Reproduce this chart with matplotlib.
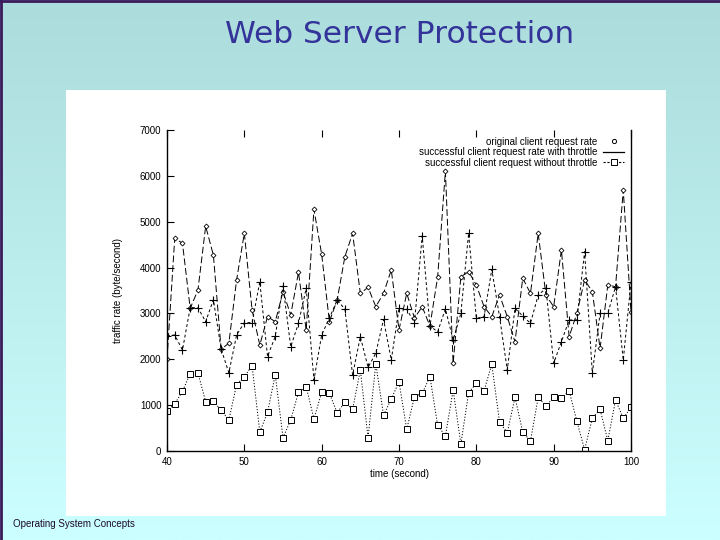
import matplotlib.pyplot as plt
import numpy as np
from matplotlib.lines import Line2D
from matplotlib.patches import Rectangle
from matplotlib.colors import LinearSegmentedColormap

# dados (tempo em segundos)
tempo = list(range(40, 101))

original = [2000, 4640, 4530, 3110, 3510, 4900, 4270, 2220, 2350, 3730,
            4750, 3075, 2310, 2930, 2820, 3475, 2966, 3897, 2640, 5270,
            4290, 2820, 3290, 4236, 4746, 3438, 3568, 3147, 3438, 3947,
            2640, 3438, 2900, 3147, 2725, 3800, 6100, 1912, 3800, 3910,
            3620, 3147, 2930, 3400, 2930, 2380, 3766, 3438, 4746, 3400,
            3147, 4383, 2493, 3000, 3730, 3475, 2240, 3620, 3583, 5690, 3040]

com_throttle = [2508, 2530, 2202, 3125, 3125, 2820, 3300, 2220, 1707, 2530,
                2800, 2800, 3690, 2060, 2500, 3600, 2275, 2785, 3548, 1550,
                2530, 2900, 3290, 3095, 1657, 2493, 1825, 2130, 2870, 1984,
                3110, 3090, 2800, 4690, 2725, 2600, 3100, 2420, 3000, 4746,
                2893, 2930, 3960, 2930, 1766, 3110, 2945, 2785, 3400, 3548,
                1912, 2385, 2857, 2857, 4346, 1694, 3000, 3000, 3583, 1984, 3690]

sem_throttle = [870, 1030, 1300, 1690, 1707, 1075, 1080, 894, 676, 1450,
                1620, 1860, 414, 844, 1664, 290, 676, 1280, 1402, 698,
                1280, 1258, 835, 1060, 909, 1766, 290, 1900, 780, 1134,
                1511, 473, 1184, 1258, 1620, 560, 327, 1330, 152, 1271,
                1476, 1315, 1890, 632, 400, 1170, 414, 218, 1170, 981,
                1170, 1149, 1315, 650, 30, 713, 909, 225, 1112, 713, 953]

legendas = ['original client request rate',
            'successful client request rate with throttle',
            'successful client request without throttle']

fig = plt.figure(figsize=(7.2, 5.4), dpi=100)

# fundo do slide em degrade
fundo = fig.add_axes([0, 0, 1, 1], zorder=-10)
grad = np.linspace(0, 1, 256).reshape(-1, 1)
cmap = LinearSegmentedColormap.from_list('slide', ['#acdcdc', '#ccffff'])
fundo.imshow(grad, aspect='auto', cmap=cmap, extent=[0, 1, 0, 1], origin='upper')
fundo.set_xlim(0, 1)
fundo.set_ylim(0, 1)
fundo.axis('off')
fundo.plot([0.001, 0.001], [0, 1], color='#3a1a5a', lw=2)
fundo.plot([0, 1], [0.999, 0.999], color='#3a1a5a', lw=2)

# painel branco
fig.patches.append(Rectangle((66 / 720, 1 - 516 / 540), 600 / 720, 426 / 540,
                             transform=fig.transFigure, facecolor='white',
                             edgecolor='none', zorder=-5))

fig.text(0.555, 0.937, 'Web Server Protection', ha='center', va='center',
         fontsize=22.5, color='#333399', family='DejaVu Sans')
fig.text(0.018, 0.029, 'Operating System Concepts', ha='left', va='center',
         fontsize=7, color='#1a0a2a', family='Liberation Sans')

ax = fig.add_axes([167 / 720, 1 - 451 / 540, 464 / 720, 321 / 540])
ax.set_facecolor('white')

ax.plot(tempo, original, color='black', lw=0.7, dashes=(7, 3),
        marker='D', ms=2.5, mfc='white', mew=0.6)
ax.plot(tempo, com_throttle, color='black', lw=0.7, dashes=(3, 2.5),
        marker='+', ms=6, mew=0.8)
ax.plot(tempo, sem_throttle, color='black', lw=0.7, dashes=(1.2, 1.8),
        marker='s', ms=3.8, mfc='white', mew=0.7)

ax.set_xlim(40, 100)
ax.set_ylim(0, 7000)
ax.set_xticks(range(40, 101, 10))
ax.set_yticks(range(0, 7001, 1000))
ax.tick_params(direction='in', length=5, width=0.8, labelsize=7, top=True,
               right=False, pad=4)
for lab in ax.get_xticklabels() + ax.get_yticklabels():
    lab.set_family('Liberation Sans')
ax.spines['top'].set_visible(False)
for s in ['left', 'bottom', 'right']:
    ax.spines[s].set_linewidth(1.0)

ax.set_xlabel('time (second)', fontsize=7, family='Liberation Sans', labelpad=2)
ax.set_ylabel('traffic rate (byte/second)', fontsize=7, family='Liberation Sans',
              labelpad=12)

handles = [Line2D([], [], ls='none', marker='o', ms=3, mfc='white', color='black', mew=0.7),
           Line2D([], [], color='black', lw=0.9),
           Line2D([], [], color='black', lw=0.8, dashes=(2, 1.5), marker='s', ms=4,
                  mfc='white', mew=0.7)]
ax.legend(handles, legendas, loc='upper right', frameon=False, markerfirst=False,
          prop={'family': 'Liberation Sans', 'size': 7}, handlelength=2.2,
          labelspacing=0.05, borderaxespad=0.3, handletextpad=0.6)

plt.savefig('out.png', dpi=100)
